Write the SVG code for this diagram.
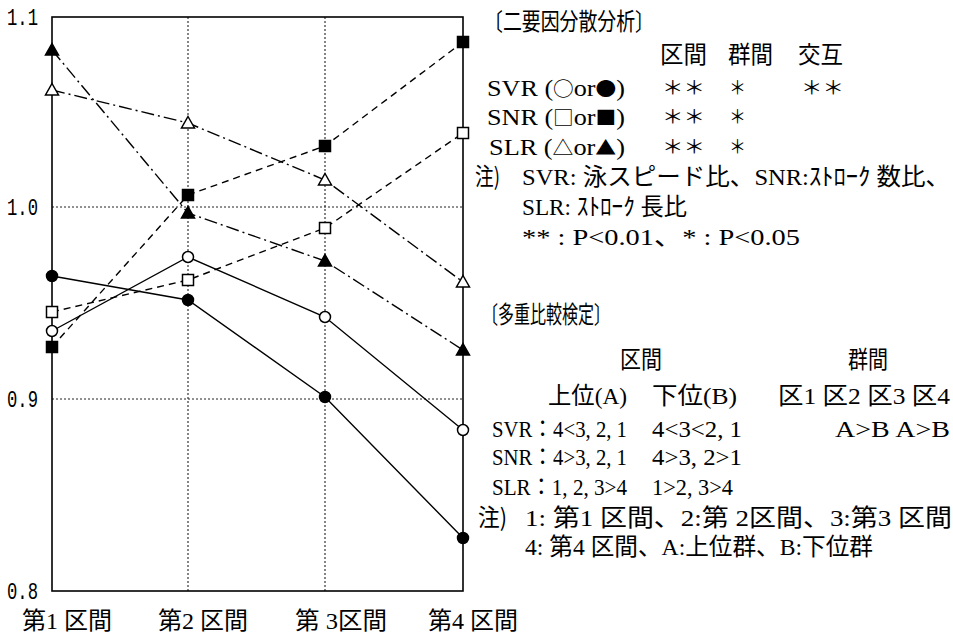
<svg xmlns="http://www.w3.org/2000/svg" width="953" height="640" viewBox="0 0 953 640">
<style>
.bg{fill:#fff}
.frame{fill:none;stroke:#000;stroke-width:1.6}
.grid{fill:none;stroke:#222;stroke-width:1.1;stroke-dasharray:2,2}
.solid{fill:none;stroke:#000;stroke-width:1.4}
.dash{fill:none;stroke:#000;stroke-width:1.4;stroke-dasharray:7,5}
.dashdot{fill:none;stroke:#000;stroke-width:1.4;stroke-dasharray:13,4,2,4}
.mo{fill:#fff;stroke:#000;stroke-width:1.5}
.mf{fill:#000;stroke:#000;stroke-width:1.5}
.ax{font-family:"Liberation Mono",monospace;font-size:23px;fill:#000}
.t{font-family:"Liberation Serif","Noto Sans CJK JP",serif;font-size:24px;fill:#000}
.j{font-family:"Noto Sans CJK JP",sans-serif;font-size:24px;fill:#000}
.s{font-family:"Noto Sans CJK JP",sans-serif;font-size:19px;fill:#000}
.g{font-family:"Noto Sans CJK JP",sans-serif;font-size:19px}
</style>
<defs>
<circle id="co" r="5.5" class="mo"/>
<circle id="cf" r="5.5" class="mf"/>
<rect id="so" x="-5.5" y="-5.5" width="11" height="11" class="mo"/>
<rect id="sf" x="-5.5" y="-5.5" width="11" height="11" class="mf"/>
<polygon id="to" points="0,-6.5 6.5,5 -6.5,5" class="mo"/>
<polygon id="tf" points="0,-6.5 6.5,5 -6.5,5" class="mf"/>
</defs>
<rect class="bg" x="0" y="0" width="953" height="640"/>

<g id="grid">
<line class="grid" x1="52" y1="207" x2="463" y2="207"/>
<line class="grid" x1="52" y1="399" x2="463" y2="399"/>
<line class="grid" x1="188" y1="17" x2="188" y2="591"/>
<line class="grid" x1="325" y1="17" x2="325" y2="591"/>
</g>
<g id="frame">
<rect class="frame" x="52" y="17" width="411" height="574"/>
</g>

<g id="axis-labels">
<text class="ax" x="7" y="25" textLength="31" lengthAdjust="spacingAndGlyphs">1.1</text>
<text class="ax" x="7" y="215" textLength="31" lengthAdjust="spacingAndGlyphs">1.0</text>
<text class="ax" x="7" y="407" textLength="31" lengthAdjust="spacingAndGlyphs">0.9</text>
<text class="ax" x="7" y="599" textLength="31" lengthAdjust="spacingAndGlyphs">0.8</text>
<text class="t" x="22" y="629" textLength="90" lengthAdjust="spacingAndGlyphs">第1 区間</text>
<text class="t" x="158" y="629" textLength="90" lengthAdjust="spacingAndGlyphs">第2 区間</text>
<text class="t" x="295" y="629" textLength="92" lengthAdjust="spacingAndGlyphs">第 3区間</text>
<text class="t" x="428" y="629" textLength="90" lengthAdjust="spacingAndGlyphs">第4 区間</text>
</g>

<g id="connectors">
<polyline class="dashdot" points="52,50 188,213 325,261 463,350"/>
<polyline class="dashdot" points="52,90 188,123 325,180 463,282"/>
<polyline class="dash" points="52,347 188,195 325,146 463,42"/>
<polyline class="dash" points="52,312 188,280 325,228 463,133"/>
<polyline class="solid" points="52,331 188,257 325,317 463,430"/>
<polyline class="solid" points="52,276 188,300 325,397 463,538"/>
</g>

<g id="series-SLR-filled">
<use href="#tf" x="52" y="50"/><use href="#tf" x="188" y="213"/><use href="#tf" x="325" y="261"/><use href="#tf" x="463" y="350"/>
</g>
<g id="series-SLR-open">
<use href="#to" x="52" y="90"/><use href="#to" x="188" y="123"/><use href="#to" x="325" y="180"/><use href="#to" x="463" y="282"/>
</g>
<g id="series-SNR-filled">
<use href="#sf" x="52" y="347"/><use href="#sf" x="188" y="195"/><use href="#sf" x="325" y="146"/><use href="#sf" x="463" y="42"/>
</g>
<g id="series-SNR-open">
<use href="#so" x="52" y="312"/><use href="#so" x="188" y="280"/><use href="#so" x="325" y="228"/><use href="#so" x="463" y="133"/>
</g>
<g id="series-SVR-open">
<use href="#co" x="52" y="331"/><use href="#co" x="188" y="257"/><use href="#co" x="325" y="317"/><use href="#co" x="463" y="430"/>
</g>
<g id="series-SVR-filled">
<use href="#cf" x="52" y="276"/><use href="#cf" x="188" y="300"/><use href="#cf" x="325" y="397"/><use href="#cf" x="463" y="538"/>
</g>

<g id="anova">
<text class="j" x="484" y="30" textLength="170" lengthAdjust="spacingAndGlyphs">〔二要因分散分析〕</text>
<text class="j" x="660" y="63" textLength="47" lengthAdjust="spacingAndGlyphs">区間</text>
<text class="j" x="728" y="63" textLength="45" lengthAdjust="spacingAndGlyphs">群間</text>
<text class="j" x="798" y="63" textLength="45" lengthAdjust="spacingAndGlyphs">交互</text>
<text class="t" x="487" y="96" textLength="138" lengthAdjust="spacingAndGlyphs">SVR (<tspan class="g">○</tspan>or<tspan class="g">●</tspan>)</text>
<text class="s" x="662" y="95" textLength="43" lengthAdjust="spacingAndGlyphs">＊＊</text>
<text class="s" x="729" y="95" textLength="17" lengthAdjust="spacingAndGlyphs">＊</text>
<text class="s" x="801" y="95" textLength="43" lengthAdjust="spacingAndGlyphs">＊＊</text>
<text class="t" x="487" y="125" textLength="138" lengthAdjust="spacingAndGlyphs">SNR (<tspan class="g">□</tspan>or<tspan class="g">■</tspan>)</text>
<text class="s" x="662" y="124" textLength="43" lengthAdjust="spacingAndGlyphs">＊＊</text>
<text class="s" x="729" y="124" textLength="17" lengthAdjust="spacingAndGlyphs">＊</text>
<text class="t" x="489" y="155" textLength="136" lengthAdjust="spacingAndGlyphs">SLR (<tspan class="g">△</tspan>or<tspan class="g">▲</tspan>)</text>
<text class="s" x="662" y="154" textLength="43" lengthAdjust="spacingAndGlyphs">＊＊</text>
<text class="s" x="729" y="154" textLength="17" lengthAdjust="spacingAndGlyphs">＊</text>
<text class="j" x="475" y="185" textLength="25" lengthAdjust="spacingAndGlyphs">注)</text>
<text class="t" x="522" y="185" textLength="428" lengthAdjust="spacingAndGlyphs">SVR: 泳スピード比、SNR:ｽﾄﾛｰｸ 数比、</text>
<text class="t" x="522" y="215" textLength="165" lengthAdjust="spacingAndGlyphs">SLR: ｽﾄﾛｰｸ 長比</text>
<text class="t" x="522" y="245" textLength="278" lengthAdjust="spacingAndGlyphs">** : P&lt;0.01、* : P&lt;0.05</text>
</g>

<g id="multiple-comparison">
<text class="j" x="482" y="323" textLength="128" lengthAdjust="spacingAndGlyphs">〔多重比較検定〕</text>
<text class="j" x="620" y="368" textLength="42" lengthAdjust="spacingAndGlyphs">区間</text>
<text class="j" x="848" y="368" textLength="40" lengthAdjust="spacingAndGlyphs">群間</text>
<text class="t" x="548" y="404" textLength="79" lengthAdjust="spacingAndGlyphs">上位(A)</text>
<text class="t" x="652" y="404" textLength="85" lengthAdjust="spacingAndGlyphs">下位(B)</text>
<text class="t" x="778" y="404" textLength="172" lengthAdjust="spacingAndGlyphs">区1 区2 区3 区4</text>
<text class="t" x="492" y="437" textLength="135" lengthAdjust="spacingAndGlyphs">SVR：4&lt;3, 2, 1</text>
<text class="t" x="652" y="437" textLength="90" lengthAdjust="spacingAndGlyphs">4&lt;3&lt;2, 1</text>
<text class="t" x="835" y="437" textLength="115" lengthAdjust="spacingAndGlyphs">A&gt;B A&gt;B</text>
<text class="t" x="492" y="465" textLength="135" lengthAdjust="spacingAndGlyphs">SNR：4&gt;3, 2, 1</text>
<text class="t" x="652" y="465" textLength="90" lengthAdjust="spacingAndGlyphs">4&gt;3, 2&gt;1</text>
<text class="t" x="492" y="495" textLength="135" lengthAdjust="spacingAndGlyphs">SLR：1, 2, 3&gt;4</text>
<text class="t" x="652" y="495" textLength="81" lengthAdjust="spacingAndGlyphs">1&gt;2, 3&gt;4</text>
<text class="j" x="478" y="526" textLength="29" lengthAdjust="spacingAndGlyphs">注)</text>
<text class="t" x="525" y="526" textLength="427" lengthAdjust="spacingAndGlyphs">1: 第1 区間、2:第 2区間、3:第3 区間</text>
<text class="t" x="525" y="555" textLength="348" lengthAdjust="spacingAndGlyphs">4: 第4 区間、A:上位群、B:下位群</text>
</g>
</svg>
